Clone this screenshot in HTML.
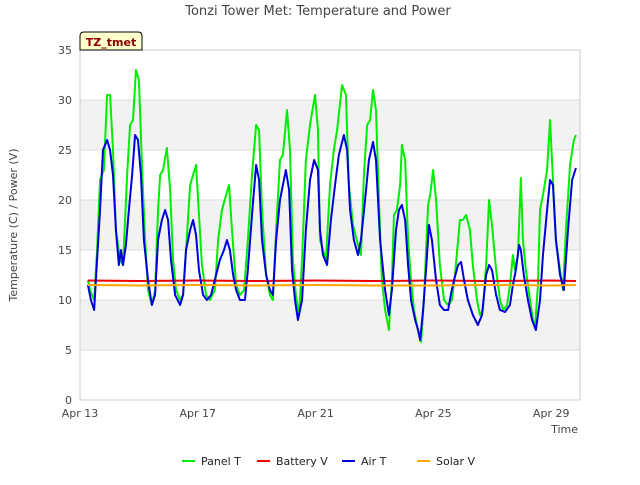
<!DOCTYPE html>
<html><head><meta charset="utf-8"><style>
body{margin:0;background:#fff;font-family:"Liberation Sans","DejaVu Sans",sans-serif}
svg text{font-family:"DejaVu Sans","Liberation Sans",sans-serif}
</style></head><body>
<svg id="chart" width="640" height="480" xmlns="http://www.w3.org/2000/svg">
<rect width="640" height="480" fill="#fff"/>
<g id="bands"></g><g id="grid"></g>
<rect x="80" y="50" width="500" height="350" fill="none" stroke="#ccc"/>
<g id="series"></g><g id="axes"></g>
<text x="318" y="15" text-anchor="middle" font-size="13" fill="#444">Tonzi Tower Met: Temperature and Power</text>
<text transform="translate(17,225) rotate(-90)" text-anchor="middle" font-size="11" fill="#444">Temperature (C) / Power (V)</text>
<text x="578" y="433" text-anchor="end" font-size="11" fill="#444">Time</text>
<g>
<path d="M80,50 L80,36 Q80,32 84,32 L138,32 Q142,32 142,36 L142,50 Z" fill="#ffffcc" stroke="#000"/>
<text x="111" y="46" text-anchor="middle" font-size="11" font-weight="bold" fill="#8b0000">TZ_tmet</text></g>
<g id="legend"></g>
</svg>
<script>
const yTicks=[0,5,10,15,20,25,30,35];
const xTickDays=[0,4,8,12,16];
const xTickLabels=["Apr 13","Apr 17","Apr 21","Apr 25","Apr 29"];
const panelT=[0.27,0.34,0.48,0.58,0.68,0.81,0.92,1.02,1.12,1.22,1.36,1.46,1.60,1.70,1.80,1.90,2.00,2.11,2.21,2.31,2.44,2.55,2.65,2.72,2.82,2.95,3.06,3.16,3.26,3.40,3.50,3.60,3.74,3.84,3.94,4.04,4.14,4.28,4.41,4.58,4.69,4.82,4.96,5.06,5.16,5.30,5.43,5.57,5.70,5.84,5.98,6.08,6.18,6.32,6.45,6.55,6.66,6.79,6.89,7.03,7.13,7.23,7.33,7.44,7.54,7.67,7.81,7.98,8.08,8.15,8.25,8.35,8.49,8.62,8.73,8.90,9.03,9.13,9.27,9.44,9.54,9.64,9.75,9.85,9.95,10.05,10.15,10.25,10.36,10.49,10.59,10.66,10.76,10.87,10.93,11.04,11.14,11.24,11.34,11.44,11.51,11.58,11.68,11.75,11.82,11.89,11.99,12.09,12.22,12.36,12.50,12.63,12.73,12.84,12.90,13.00,13.11,13.24,13.34,13.48,13.58,13.68,13.79,13.89,13.99,14.13,14.26,14.37,14.50,14.60,14.70,14.77,14.87,14.97,15.04,15.14,15.28,15.38,15.45,15.55,15.62,15.72,15.86,15.96,16.06,16.16,16.30,16.40,16.50,16.64,16.77,16.84];
const panelV=[12,11,10,15,22,23,30.5,30.5,25,17,14,13.5,22.5,27.5,28,33,32,23,16,11,9.5,11,19,22.5,23,25.2,21,14,11,10,10.5,15,21.5,22.5,23.5,18.5,13.5,10.5,10,11,16,19,20.5,21.5,17,11.5,10.5,11,16,22.5,27.5,27,19,12.5,10.5,10,17,24,24.5,29,25,14,10.5,8.5,14,24,27.5,30.5,27,16,15,14,21.5,25,27,31.5,30.5,21.5,17.5,15.5,14.5,22.5,27.5,28,31,29,20,12,9,7,12,18.5,19,21.5,25.5,24,16,12,9,7.5,6.5,5.8,10,15,19.5,20.5,23,20,13.5,10,9.5,10,12.5,16,18,18,18.5,17,13.5,10,8.5,9,13.5,20,17.5,13,10,9,9.5,11.5,14.5,13,14.5,22.2,16,13,10,8,7.2,11.5,19,20.5,23,28,22,16,13,11,17,23.5,26,26.5];
const airT=[0.27,0.37,0.48,0.58,0.68,0.78,0.92,1.02,1.12,1.22,1.32,1.39,1.46,1.56,1.66,1.77,1.87,1.97,2.07,2.17,2.31,2.44,2.55,2.65,2.78,2.89,2.99,3.09,3.23,3.40,3.50,3.60,3.74,3.84,3.94,4.04,4.18,4.31,4.45,4.62,4.75,4.89,4.99,5.09,5.20,5.30,5.43,5.60,5.70,5.84,5.98,6.08,6.18,6.32,6.45,6.55,6.66,6.79,6.89,6.99,7.10,7.20,7.30,7.40,7.54,7.67,7.81,7.95,8.08,8.15,8.25,8.39,8.52,8.66,8.79,8.96,9.07,9.17,9.30,9.44,9.54,9.68,9.81,9.95,10.05,10.19,10.36,10.49,10.59,10.73,10.83,10.93,11.04,11.14,11.24,11.38,11.48,11.55,11.65,11.75,11.85,11.95,12.09,12.22,12.36,12.50,12.59,12.70,12.84,12.94,13.04,13.17,13.34,13.51,13.65,13.79,13.89,13.99,14.13,14.26,14.43,14.60,14.70,14.80,14.91,14.97,15.07,15.21,15.35,15.48,15.62,15.72,15.86,15.96,16.06,16.16,16.30,16.43,16.57,16.71,16.84];
const airV=[11.5,10,9,14,19,25,26,25,22.5,17,13.5,15,13.5,15.5,19,22.5,26.5,26,22.5,16,12,9.5,10.5,16,18,19,18,14,10.5,9.5,10.5,15,17,18,16.5,13,10.5,10,10.5,12.5,14,15,16,15,12.5,11,10,10,13,18.5,23.5,22,16,12.5,11,10.5,16,20,21.5,23,21,13,10,8,10,17,22,24,23,17,14.5,13.5,18,21.5,24.5,26.5,25,19,16,14.5,16,20,24,25.8,24,16,11,8.5,11,17,19,19.5,18,13.5,10,8,7,6,9,13,17.5,16,12,9.5,9,9,10.5,12,13.5,13.8,12,10,8.5,7.5,8.5,12.5,13.5,13,10.5,9,8.8,9.5,11.5,13,15.5,15,12.5,10,8,7,10,14.5,19,22,21.5,16,12.5,11,17,22,23.2];
const battT=[0.27,2,4,6,8,10,12,14,16,16.84];
const battV=[11.95,11.9,11.95,11.9,11.95,11.9,11.95,11.9,11.95,11.9];
const solarT=[0.27,2,4,6,8,10,12,14,16,16.84];
const solarV=[11.5,11.45,11.5,11.45,11.5,11.45,11.45,11.5,11.45,11.5];

const X=d=>80+d*29.45, Y=v=>400-v*10;
const NS="http://www.w3.org/2000/svg";
function mk(tag,attrs,parent){const e=document.createElementNS(NS,tag);for(const k in attrs)e.setAttribute(k,attrs[k]);document.getElementById(parent).appendChild(e);return e;}
for(let i=0;i<yTicks.length-1;i++){
  if(yTicks[i]%10===5){const b=mk('rect',{x:80,y:Y(yTicks[i+1]),width:500,height:Y(yTicks[i])-Y(yTicks[i+1]),fill:'#f2f2f2'},'bands');
  
  }
}
yTicks.forEach(v=>{
  const l=mk('line',{x1:80,x2:580,y1:Y(v),y2:Y(v),stroke:'#ddd'},'grid');
  
  
  const t=mk('text',{x:72,y:Y(v)+4,'text-anchor':'end','font-size':11,fill:'#444'},'axes');t.textContent=v;
  
  
});
xTickDays.forEach((d,i)=>{
  const t=mk('text',{x:X(d),y:417,'text-anchor':'middle','font-size':11,fill:'#444'},'axes');t.textContent=xTickLabels[i];
  
  
});
function line(ts,vs,color,name){
  const p=mk('polyline',{points:ts.map((t,i)=>X(t)+','+Y(vs[i])).join(' '),fill:'none',stroke:color,'stroke-width':2,'stroke-linejoin':'round'},'series');
  
  
}
line(panelT,panelV,'#00ee00','panel-t-line');
line(battT,battV,'#ee0000','battery-v-line');
line(airT,airV,'#0000dd','air-t-line');
line(solarT,solarV,'#ffa500','solar-v-line');
const leg=[["Panel T","#00ee00",182],["Battery V","#ee0000",257],["Air T","#0000dd",342],["Solar V","#ffa500",417]];
leg.forEach(([n,c,x])=>{
  const g=mk('g',{},'legend');
  
  
  const l=document.createElementNS(NS,'line');l.setAttribute('x1',x);l.setAttribute('x2',x+13);l.setAttribute('y1',461);l.setAttribute('y2',461);l.setAttribute('stroke',c);l.setAttribute('stroke-width',2);g.appendChild(l);
  const t=document.createElementNS(NS,'text');t.setAttribute('x',x+19);t.setAttribute('y',465);t.setAttribute('font-size',11);t.setAttribute('fill','#222');t.textContent=n;g.appendChild(t);
});
</script>
</body></html>
